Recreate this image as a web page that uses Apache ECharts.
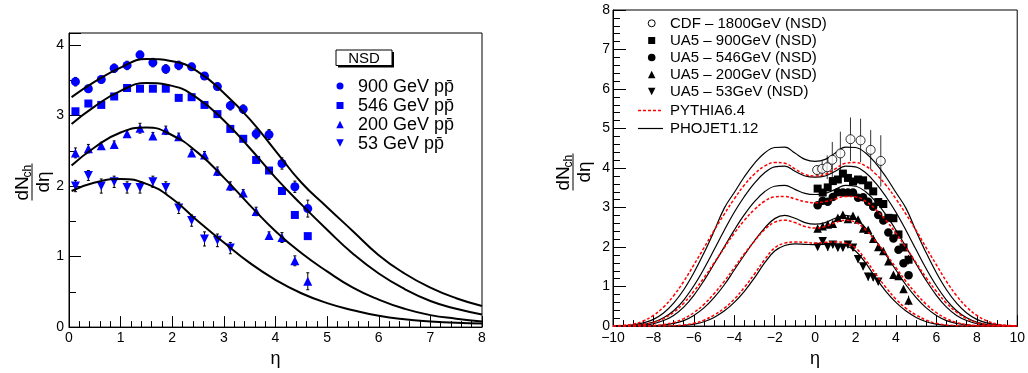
<!DOCTYPE html>
<html>
<head>
<meta charset="utf-8">
<script src="https://cdn.jsdelivr.net/npm/echarts@6/dist/echarts.min.js"></script>
<style>
html,body{margin:0;padding:0;background:#fff;}
#chart{width:1028px;height:373px;}
</style>
</head>
<body>
<div id="chart"></div>
<script>
// ---------- Left panel data (UA5 NSD, blue markers) ----------
const etaL   = [0.125,0.375,0.625,0.875,1.125,1.375,1.625,1.875,2.125,2.375,2.625,2.875,3.125,3.375,3.625,3.875,4.125,4.375,4.625];
const v900   = [3.48,3.38,3.51,3.67,3.71,3.86,3.75,3.66,3.71,3.69,3.56,3.41,3.14,3.09,2.74,2.73,2.32,1.99,1.68];
const e900   = [0.06,0.05,0.05,0.06,0.06,0.05,0.06,0.06,0.06,0.05,0.05,0.05,0.06,0.06,0.07,0.07,0.08,0.08,0.12];
const v546   = [3.06,3.17,3.15,3.27,3.39,3.38,3.38,3.38,3.25,3.26,3.15,3.02,2.81,2.67,2.37,2.22,1.93,1.59,1.29];
const e546   = [0.03,0.03,0.03,0.03,0.03,0.03,0.03,0.03,0.03,0.03,0.03,0.03,0.03,0.03,0.03,0.03,0.03,0.03,0.03];
const v200   = [2.47,2.53,2.57,2.59,2.74,2.82,2.71,2.79,2.70,2.47,2.44,2.21,2.00,1.90,1.64,1.30,1.27,0.94,0.65];
const e200   = [0.07,0.06,0.05,0.05,0.05,0.07,0.05,0.06,0.05,0.05,0.05,0.06,0.06,0.05,0.06,0.05,0.07,0.07,0.12];
const eta53  = [0.125,0.375,0.625,0.875,1.125,1.375,1.625,1.875,2.125,2.375,2.625,2.875,3.125];
const v53    = [2.00,2.15,2.00,2.06,1.98,1.98,2.06,1.98,1.69,1.51,1.25,1.23,1.12];
const e53    = [0.08,0.07,0.10,0.08,0.08,0.08,0.08,0.08,0.08,0.08,0.10,0.09,0.08];

// fitted curves (left panel)
const etaFit = [0.05,0.5,1,1.5,2,2.5,3,3.5,4,4.5,5,5.5,6,6.5,7,7.5,8];
const fit900 = [3.26,3.48,3.68,3.80,3.77,3.62,3.32,2.95,2.50,2.05,1.70,1.36,1.02,0.76,0.56,0.41,0.30];
const fit546 = [2.88,3.13,3.35,3.46,3.42,3.24,2.93,2.54,2.12,1.74,1.38,1.04,0.76,0.54,0.37,0.26,0.18];
const fit200 = [2.29,2.55,2.76,2.83,2.72,2.47,2.12,1.73,1.36,1.05,0.79,0.56,0.39,0.26,0.17,0.12,0.08];
const fit53  = [1.93,2.05,2.10,2.03,1.82,1.50,1.20,0.91,0.67,0.48,0.34,0.24,0.16,0.11,0.08,0.06,0.05];

// ---------- Right panel data ----------
const etaCDF = [0.1,0.35,0.6,0.85,1.25,1.75,2.25,2.75,3.25];
const vCDF   = [3.95,3.98,4.02,4.21,4.37,4.73,4.70,4.46,4.18];
const eCDF   = [0.12,0.20,0.30,0.45,0.55,0.55,0.55,0.50,0.65];

const etaM = [-10,-9.5,-9,-8.5,-8,-7.5,-7,-6.5,-6,-5.5,-5,-4.5,-4,-3.5,-3,-2.5,-2,-1.5,-1,-0.5,0,0.5,1,1.5,2,2.5,3,3.5,4,4.5,5,5.5,6,6.5,7,7.5,8,8.5,9,9.5,10];
// PHOJET1.12 (black)
const pho1800 = [0,0.01,0.03,0.08,0.17,0.33,0.58,0.92,1.35,1.85,2.40,2.98,3.38,3.78,4.12,4.38,4.52,4.53,4.38,4.22,4.17,4.22,4.38,4.53,4.52,4.38,4.12,3.78,3.38,2.98,2.40,1.85,1.35,0.92,0.58,0.33,0.17,0.08,0.03,0.01,0];
const pho900  = [0,0.005,0.015,0.04,0.10,0.21,0.39,0.66,1.02,1.45,1.93,2.42,2.88,3.28,3.62,3.88,4.03,4.05,3.92,3.80,3.77,3.80,3.92,4.05,4.03,3.88,3.62,3.28,2.88,2.42,1.93,1.45,1.02,0.66,0.39,0.21,0.10,0.04,0.015,0.005,0];
const pho546  = [0,0,0.01,0.025,0.06,0.14,0.27,0.48,0.78,1.15,1.57,2.00,2.43,2.82,3.15,3.40,3.54,3.56,3.46,3.36,3.33,3.36,3.46,3.56,3.54,3.40,3.15,2.82,2.43,2.00,1.57,1.15,0.78,0.48,0.27,0.14,0.06,0.025,0.01,0,0];
const pho200  = [0,0,0,0,0.01,0.03,0.07,0.14,0.27,0.46,0.72,1.04,1.42,1.80,2.16,2.48,2.72,2.80,2.73,2.62,2.58,2.62,2.73,2.80,2.72,2.48,2.16,1.80,1.42,1.04,0.72,0.46,0.27,0.14,0.07,0.03,0.01,0,0,0,0];
const pho53   = [0,0,0,0,0,0,0,0.02,0.05,0.11,0.22,0.38,0.60,0.88,1.22,1.60,1.90,2.04,2.08,2.07,2.06,2.07,2.08,2.04,1.90,1.60,1.22,0.88,0.60,0.38,0.22,0.11,0.05,0.02,0,0,0,0,0,0,0];
// PYTHIA6.4 (red dashed)
const pyt1 = [0,0.02,0.05,0.13,0.27,0.48,0.77,1.13,1.55,1.98,2.42,2.83,3.22,3.57,3.85,4.05,4.14,4.12,3.98,3.84,3.80,3.84,3.98,4.12,4.14,4.05,3.85,3.57,3.22,2.83,2.42,1.98,1.55,1.13,0.77,0.48,0.27,0.13,0.05,0.02,0];
const pyt2 = [0,0,0.015,0.04,0.09,0.19,0.35,0.58,0.88,1.22,1.60,1.98,2.35,2.68,2.95,3.16,3.27,3.28,3.22,3.15,3.12,3.15,3.22,3.28,3.27,3.16,2.95,2.68,2.35,1.98,1.60,1.22,0.88,0.58,0.35,0.19,0.09,0.04,0.015,0,0];
const pyt3 = [0,0,0,0,0.015,0.04,0.09,0.19,0.34,0.55,0.82,1.13,1.48,1.83,2.15,2.44,2.63,2.68,2.62,2.52,2.48,2.52,2.62,2.68,2.63,2.44,2.15,1.83,1.48,1.13,0.82,0.55,0.34,0.19,0.09,0.04,0.015,0,0,0,0];
const pyt4 = [0,0,0,0,0,0,0.01,0.03,0.07,0.15,0.28,0.45,0.68,0.98,1.32,1.68,1.98,2.10,2.13,2.12,2.10,2.12,2.13,2.10,1.98,1.68,1.32,0.98,0.68,0.45,0.28,0.15,0.07,0.03,0.01,0,0,0,0,0,0];

// tick labels
const leftXTicks  = [0,1,2,3,4,5,6,7,8];
const rightXTicks = [-10,-8,-6,-4,-2,0,2,4,6,8,10];

// ---------- helpers ----------
const FONT = '"Liberation Sans", Arial, sans-serif';
const BLUE = '#0000ff';
const pairs = (xs, ys) => xs.map((x, i) => [x, ys[i]]);

function errSeries(xs, ys, es, xi, color, cap) {
  return {
    type: 'custom', xAxisIndex: xi, yAxisIndex: xi, z: 1, silent: true,
    data: xs.map((x, i) => [x, ys[i], es[i]]),
    renderItem: function (params, api) {
      const x = api.value(0), y = api.value(1), e = api.value(2);
      const p1 = api.coord([x, y - e]), p2 = api.coord([x, y + e]);
      const st = { stroke: color, lineWidth: 1 };
      const ch = [{ type: 'line', shape: { x1: p1[0], y1: p1[1], x2: p2[0], y2: p2[1] }, style: st }];
      if (cap) {
        ch.push({ type: 'line', shape: { x1: p1[0] - cap, y1: p1[1], x2: p1[0] + cap, y2: p1[1] }, style: st });
        ch.push({ type: 'line', shape: { x1: p2[0] - cap, y1: p2[1], x2: p2[0] + cap, y2: p2[1] }, style: st });
      }
      return { type: 'group', children: ch };
    }
  };
}
function scatter(name, xs, ys, xi, symbol, color, size, rot, extra) {
  return Object.assign({
    name: name, type: 'scatter', xAxisIndex: xi, yAxisIndex: xi, z: 2,
    symbol: symbol, symbolSize: size, symbolRotate: rot || 0,
    itemStyle: { color: color, opacity: 1 }, data: pairs(xs, ys), silent: true
  }, extra || {});
}
function curve(name, xs, ys, xi, color, width, dash, smooth) {
  return {
    name: name, type: 'line', xAxisIndex: xi, yAxisIndex: xi, z: 3,
    showSymbol: false, symbol: 'none', smooth: smooth, silent: true,
    lineStyle: { color: color, width: width, type: dash || 'solid' },
    data: pairs(xs, ys)
  };
}
function yTitle(cx, cy) {
  return {
    type: 'group', x: cx, y: cy, rotation: Math.PI / 2,
    children: [
      { type: 'text', x: -18.5, y: 0, style: { text: 'dN', font: '19px ' + FONT, fill: '#000', align: 'left', verticalAlign: 'bottom' } },
      { type: 'text', x: 4.5, y: 2, style: { text: 'ch', font: '12px ' + FONT, fill: '#000', align: 'left', verticalAlign: 'bottom' } },
      { type: 'line', shape: { x1: -18.5, y1: 0, x2: 18.5, y2: 0 }, style: { stroke: '#000', lineWidth: 1 } },
      { type: 'text', x: 0, y: 2.5, style: { text: 'd\u03b7', font: '19px ' + FONT, fill: '#000', align: 'center', verticalAlign: 'top' } }
    ]
  };
}
function txt(x, y, s, size) {
  return { type: 'text', x: x, y: y, style: { text: s, font: size + 'px ' + FONT, fill: '#000', align: 'left', verticalAlign: 'middle' } };
}
function markCircle(x, y, r, fill) {
  return { type: 'circle', shape: { cx: x, cy: y, r: r }, style: { fill: fill, stroke: fill === '#fff' ? '#000' : null, lineWidth: 1 } };
}
function markRect(x, y, s, fill) {
  return { type: 'rect', shape: { x: x - s / 2, y: y - s / 2, width: s, height: s }, style: { fill: fill } };
}
function markTri(x, y, s, fill, down) {
  const h = s;
  const pts = down ? [[x - s / 2, y - h / 2], [x + s / 2, y - h / 2], [x, y + h / 2]]
                   : [[x, y - h / 2], [x - s / 2, y + h / 2], [x + s / 2, y + h / 2]];
  return { type: 'polygon', shape: { points: pts }, style: { fill: fill } };
}

const minus = v => String(v).replace('-', '\u2212');

const axisLineStyle = { onZero: false, lineStyle: { color: '#000', width: 1 } };
const labelBase = { color: '#000', fontFamily: FONT, fontSize: 14 };
const nameStyle = { color: '#000', fontFamily: FONT, fontSize: 18 };

const option = {
  backgroundColor: '#fff',
  animation: false,
  grid: [
    { left: 69, top: 33, width: 413, height: 297, show: true, borderColor: '#000', borderWidth: 1, containLabel: false },
    { left: 613, top: 10, width: 409, height: 325, show: true, borderColor: '#000', borderWidth: 1, containLabel: false }
  ],
  xAxis: [
    {
      gridIndex: 0, type: 'value', min: leftXTicks[0], max: leftXTicks[leftXTicks.length - 1], interval: 1,
      name: '\u03b7', nameLocation: 'middle', nameGap: 17, nameTextStyle: nameStyle,
      axisLine: axisLineStyle, splitLine: { show: false },
      axisTick: { inside: true, length: 11, lineStyle: { color: '#000' } },
      minorTick: { show: true, splitNumber: 5, length: 6, lineStyle: { color: '#000' } },
      axisLabel: Object.assign({}, labelBase, { margin: 4 })
    },
    {
      gridIndex: 1, type: 'value', min: rightXTicks[0], max: rightXTicks[rightXTicks.length - 1], interval: 2,
      name: '\u03b7', nameLocation: 'middle', nameGap: 17, nameTextStyle: nameStyle,
      axisLine: axisLineStyle, splitLine: { show: false },
      axisTick: { inside: true, length: 11, lineStyle: { color: '#000' } },
      minorTick: { show: true, splitNumber: 4, length: 6, lineStyle: { color: '#000' } },
      axisLabel: Object.assign({}, labelBase, { margin: 5, formatter: minus, showMaxLabel: true, showMinLabel: true })
    }
  ],
  yAxis: [
    {
      gridIndex: 0, type: 'value', min: 0, max: 4.17, interval: 1,
      axisLine: axisLineStyle, splitLine: { show: false },
      axisTick: { inside: true, length: 12, lineStyle: { color: '#000' } },
      minorTick: { show: true, splitNumber: 2, length: 7, lineStyle: { color: '#000' } },
      axisLabel: Object.assign({}, labelBase, { margin: 5, formatter: v => (Math.abs(v - Math.round(v)) < 1e-6 ? String(Math.round(v)) : '') })
    },
    {
      gridIndex: 1, type: 'value', min: 0, max: 8, interval: 1,
      axisLine: axisLineStyle, splitLine: { show: false },
      axisTick: { inside: true, length: 13, lineStyle: { color: '#000' } },
      minorTick: { show: true, splitNumber: 5, length: 7, lineStyle: { color: '#000' } },
      axisLabel: Object.assign({}, labelBase, { margin: 3 })
    }
  ],
  series: [
    // left panel
    errSeries(etaL, v900, e900, 0, '#000', 1.5),
    errSeries(etaL, v200, e200, 0, '#000', 1.5),
    errSeries(eta53, v53, e53, 0, '#000', 1.5),
    scatter('900 GeV', etaL, v900, 0, 'circle', BLUE, 9),
    scatter('546 GeV', etaL, v546, 0, 'rect', BLUE, 8),
    scatter('200 GeV', etaL, v200, 0, 'triangle', BLUE, 9),
    scatter('53 GeV', eta53, v53, 0, 'triangle', BLUE, 9, 180),
    curve('fit900', etaFit, fit900, 0, '#000', 2, 'solid', 0.5),
    curve('fit546', etaFit, fit546, 0, '#000', 2, 'solid', 0.5),
    curve('fit200', etaFit, fit200, 0, '#000', 2, 'solid', 0.5),
    curve('fit53', etaFit, fit53, 0, '#000', 2, 'solid', 0.5),
    // right panel
    errSeries(etaCDF, vCDF, eCDF, 1, '#333', 0),
    errSeries(etaL, v900, e900, 1, '#000', 0),
    errSeries(etaL, v200, e200, 1, '#000', 0),
    errSeries(eta53, v53, e53, 1, '#000', 0),
    scatter('UA5 - 900GeV (NSD)', etaL, v900, 1, 'rect', '#000', 8),
    scatter('UA5 - 546GeV (NSD)', etaL, v546, 1, 'circle', '#000', 8.5),
    scatter('UA5 - 200GeV (NSD)', etaL, v200, 1, 'triangle', '#000', 8.5),
    scatter('UA5 - 53GeV (NSD)', eta53, v53, 1, 'triangle', '#000', 8.5, 180),
    curve('PHOJET1.12', etaM, pho1800, 1, '#000', 1.2, 'solid', 0.4),
    curve('PHOJET1.12', etaM, pho900, 1, '#000', 1.2, 'solid', 0.4),
    curve('PHOJET1.12', etaM, pho546, 1, '#000', 1.2, 'solid', 0.4),
    curve('PHOJET1.12', etaM, pho200, 1, '#000', 1.2, 'solid', 0.4),
    curve('PHOJET1.12', etaM, pho53, 1, '#000', 1.2, 'solid', 0.4),
    curve('PYTHIA6.4', etaM, pyt1, 1, '#ff0000', 1.5, [3, 2], 0.4),
    curve('PYTHIA6.4', etaM, pyt2, 1, '#ff0000', 1.5, [3, 2], 0.4),
    curve('PYTHIA6.4', etaM, pyt3, 1, '#ff0000', 1.5, [3, 2], 0.4),
    curve('PYTHIA6.4', etaM, pyt4, 1, '#ff0000', 1.5, [3, 2], 0.4),
    scatter('CDF - 1800GeV (NSD)', etaCDF, vCDF, 1, 'circle', '#fff', 9, 0,
      { z: 4, itemStyle: { color: '#fff', borderColor: '#000', borderWidth: 1 } })
  ],
  graphic: [
    yTitle(32, 182),
    yTitle(573, 172),
    // left legend
    { type: 'rect', shape: { x: 338, y: 52, width: 56, height: 15.5 }, style: { fill: '#000' } },
    { type: 'rect', shape: { x: 336, y: 50, width: 56, height: 15.5 }, style: { fill: '#fff', stroke: '#000', lineWidth: 1 } },
    { type: 'text', x: 364, y: 58.5, style: { text: 'NSD', font: '15px ' + FONT, fill: '#000', align: 'center', verticalAlign: 'middle' } },
    markCircle(340, 86, 3.5, BLUE), txt(358, 87, '900 GeV pp\u0304', 18),
    markRect(340, 105.5, 7, BLUE), txt(358, 106, '546 GeV pp\u0304', 18),
    markTri(340, 124.5, 7.5, BLUE, false), txt(358, 125, '200 GeV pp\u0304', 18),
    markTri(340, 143, 7.5, BLUE, true), txt(358, 144, '53 GeV pp\u0304', 18),
    // right legend
    markCircle(651.7, 23.3, 3.5, '#fff'), txt(670, 23.5, 'CDF \u2013 1800GeV (NSD)', 15),
    markRect(651.7, 40.5, 7, '#000'), txt(670, 40.5, 'UA5 \u2013 900GeV (NSD)', 15),
    markCircle(651.7, 57.5, 3.8, '#000'), txt(670, 57.5, 'UA5 \u2013 546GeV (NSD)', 15),
    markTri(651.7, 74.5, 7.5, '#000', false), txt(670, 75, 'UA5 \u2013 200GeV (NSD)', 15),
    markTri(651.7, 91.5, 7.5, '#000', true), txt(670, 92, 'UA5 \u2013 53GeV (NSD)', 15),
    { type: 'line', shape: { x1: 638, y1: 110.5, x2: 663, y2: 110.5 }, style: { stroke: '#ff0000', lineWidth: 1.5, lineDash: [3, 2] } },
    txt(670, 110.5, 'PYTHIA6.4', 15),
    { type: 'line', shape: { x1: 638, y1: 128.5, x2: 663, y2: 128.5 }, style: { stroke: '#000', lineWidth: 1.2 } },
    txt(670, 128.5, 'PHOJET1.12', 15)
  ]
};

const chart = echarts.init(document.getElementById('chart'), null, { renderer: 'canvas' });
chart.setOption(option);
</script>
</body>
</html>
